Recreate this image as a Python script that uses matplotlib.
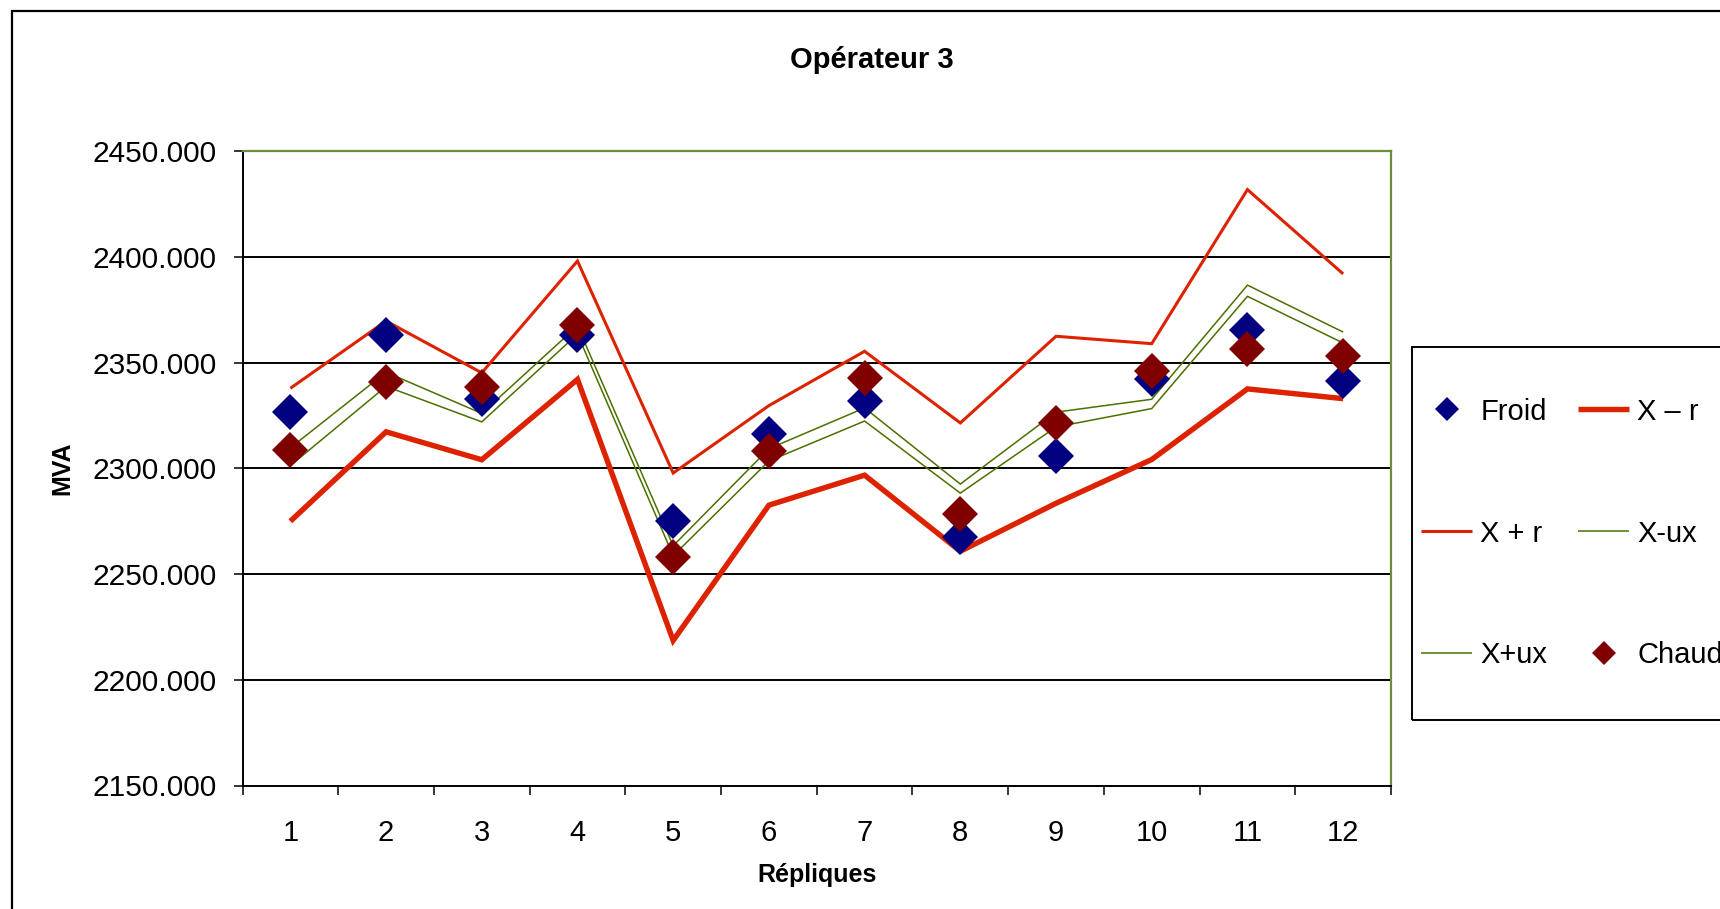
import numpy as np
import matplotlib.pyplot as plt
from matplotlib.patches import Rectangle

plt.rcParams['font.family'] = ['Liberation Sans', 'DejaVu Sans']

repliques = list(range(1, 13))
froid = [2326.6, 2363.0, 2332.6, 2363.3, 2275.0, 2316.3, 2331.8, 2267.6, 2306.1, 2342.5, 2365.7, 2341.5]
chaud = [2308.8, 2340.8, 2338.5, 2367.8, 2258.1, 2308.2, 2342.6, 2278.6, 2321.3, 2346.0, 2356.6, 2353.1]
x_moins_r = [2275.0, 2317.3, 2304.1, 2342.1, 2218.6, 2282.6, 2296.8, 2260.8, 2283.5, 2304.2, 2337.6, 2333.0]
x_plus_r = [2337.9, 2369.7, 2345.2, 2398.1, 2297.8, 2329.7, 2355.4, 2321.5, 2362.5, 2359.0, 2431.9, 2392.0]
x_moins_ux = [2301.3, 2338.8, 2322.0, 2363.5, 2258.7, 2303.5, 2322.4, 2288.3, 2319.6, 2328.3, 2381.4, 2359.3]
x_plus_ux = [2309.7, 2345.5, 2326.0, 2367.4, 2263.4, 2309.3, 2328.6, 2292.6, 2326.6, 2332.7, 2386.7, 2364.5]
yticks = [2150, 2200, 2250, 2300, 2350, 2400, 2450]

red = '#DD2200'
green = '#4B7000'
border_green = '#6B8E3B'

W, H = 1720, 909
fig = plt.figure(figsize=(W / 100, H / 100), dpi=100)
ax = fig.add_axes([242.5 / W, 1 - 785.5 / H, (1391 - 242.5) / W, (785.5 - 151.3) / H])

line_kw = dict(solid_joinstyle='miter', solid_capstyle='butt')
h_xmr, = ax.plot(repliques, x_moins_r, color=red, lw=3.9, zorder=3, **line_kw)
h_xpr, = ax.plot(repliques, x_plus_r, color=red, lw=2.2, zorder=3, **line_kw)
h_xmux, = ax.plot(repliques, x_moins_ux, color=green, lw=1.1, zorder=3, **line_kw)
h_xpux, = ax.plot(repliques, x_plus_ux, color=green, lw=1.1, zorder=3, **line_kw)
h_froid, = ax.plot(repliques, froid, 'D', ls='none', color='#000080', ms=18, mew=0, zorder=4)
h_chaud, = ax.plot(repliques, chaud, 'D', ls='none', color='#800000', ms=18, mew=0, zorder=5)

ax.set_xlim(0.5, 12.5)
ax.set_ylim(2150, 2450)

ax.set_xticks(np.arange(0.5, 13, 1))
ax.set_xticklabels([])
ax.set_xticks(repliques, minor=True)
ax.set_xticklabels([str(r) for r in repliques], minor=True)
ax.tick_params(axis='x', which='major', direction='out', length=6.5, width=1.1, color='black')
ax.tick_params(axis='x', which='minor', length=0, pad=24, labelsize=21)

ax.set_yticks(yticks)
ax.set_yticklabels([f'{v:.3f}' for v in yticks])
ax.tick_params(axis='y', direction='out', length=6.5, width=1.1, pad=12, labelsize=21.5)

for v in yticks[1:-1]:
    ax.axhline(v, color='black', lw=1.4, zorder=1)

for side in ['left', 'bottom']:
    ax.spines[side].set_color('black')
    ax.spines[side].set_linewidth(1.4)
for side in ['top', 'right']:
    ax.spines[side].set_color(border_green)
    ax.spines[side].set_linewidth(1.6)

fig.text(872 / W, 1 - 60 / H, 'Opérateur 3', ha='center', va='center', fontsize=21, fontweight='bold')
fig.text(817 / W, 1 - 875 / H, 'Répliques', ha='center', va='center', fontsize=18, fontweight='bold')
fig.text(62 / W, 1 - 468 / H, 'MVA', ha='center', va='center', rotation=90, fontsize=18, fontweight='bold')

handles = [h_froid, h_xpr, h_xpux, h_xmr, h_xmux, h_chaud]
labels = ['Froid', 'X + r', 'X+ux', 'X – r', 'X-ux', 'Chaud']
fig.legend(handles, labels, loc='center left', bbox_to_anchor=(1421 / W, 1 - 533.5 / H),
           ncol=2, frameon=False, fontsize=21, handlelength=1.75, handletextpad=0.28,
           columnspacing=1.06, labelspacing=3.22, borderpad=0, borderaxespad=0, markerscale=0.68)

# legend box and chart frame run past the right / bottom edge like the original
fig.add_artist(Rectangle((1412 / W, 1 - 720 / H), (1780 - 1412) / W, (720 - 347) / H,
                         transform=fig.transFigure, fill=False, ec='black', lw=1.4))
fig.add_artist(Rectangle((12 / W, -0.1), 1.2, 1.1 - 11 / H,
                         transform=fig.transFigure, fill=False, ec='black', lw=1.6))

fig.savefig('out.png', dpi=100)
